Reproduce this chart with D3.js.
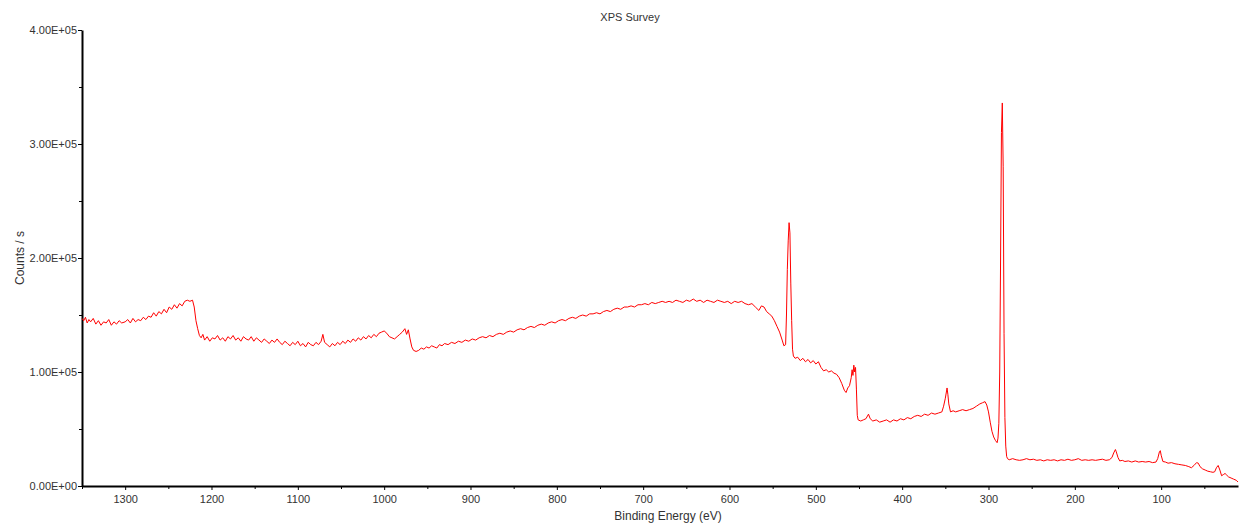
<!DOCTYPE html>
<html lang="en">

<head>
    <meta charset="UTF-8">
    <title>XPS Survey</title>
    <script src="https://d3js.org/d3.v7.min.js"></script>
    <style>
        body,
        html {
            margin: 0;
            background: #fff;
            overflow: hidden;
        }

        text {
            font-family: "Liberation Sans", Arial, sans-serif;
            fill: #333;
        }
    </style>
</head>

<body>
    <div id="chart"></div>
    <script>
        // binding energy (eV) of each sample
        var bindingEnergy = [
            1350, 1348, 1346, 1344, 1342, 1340, 1337, 1334, 1331, 1328,
            1325, 1322, 1319, 1316, 1313, 1310, 1307, 1304, 1300, 1297,
            1294, 1291, 1288, 1285, 1282, 1279, 1276, 1273, 1270, 1267,
            1264, 1261, 1258, 1255, 1252, 1249, 1246, 1243, 1240, 1237,
            1234, 1231, 1228, 1225, 1222, 1220, 1218, 1216, 1214, 1212,
            1210, 1208, 1205, 1202, 1199, 1196, 1193, 1190, 1187, 1184,
            1181, 1178, 1175, 1172, 1169, 1166, 1163, 1160, 1157, 1154,
            1151, 1148, 1145, 1142, 1139, 1136, 1133, 1130, 1127, 1124,
            1121, 1118, 1115, 1112, 1109, 1106, 1103, 1100, 1097, 1094,
            1091, 1088, 1085, 1082, 1079, 1076, 1073, 1071, 1069, 1066,
            1063, 1060, 1057, 1054, 1051, 1048, 1045, 1042, 1039, 1036,
            1033, 1030, 1027, 1024, 1021, 1018, 1015, 1012, 1009, 1006,
            1003, 1000, 997, 994, 991, 988, 985, 982, 979, 976,
            974, 972, 970, 968, 966, 963, 960, 957, 954, 951,
            948, 945, 942, 939, 936, 933, 930, 926, 922, 918,
            914, 910, 906, 902, 898, 894, 890, 886, 882, 878,
            874, 870, 866, 862, 858, 854, 850, 846, 842, 838,
            834, 830, 826, 822, 818, 814, 810, 806, 802, 798,
            794, 790, 786, 782, 778, 774, 770, 766, 762, 758,
            754, 750, 746, 742, 738, 734, 730, 726, 722, 718,
            714, 710, 706, 702, 698, 694, 690, 686, 682, 678,
            674, 670, 666, 662, 658, 654, 650, 646, 642, 638,
            634, 630, 626, 622, 618, 614, 610, 606, 602, 598,
            594, 590, 586, 582, 578, 574, 570, 566, 563, 560,
            557, 554, 551, 548, 545, 542, 539, 537, 535, 534,
            533, 532, 531, 530, 529, 528, 527, 526, 524, 521,
            518, 515, 512, 509, 506, 503, 500, 497, 494, 491,
            488, 485, 482, 479, 476, 473, 470, 467, 465, 463,
            461, 459, 458, 457, 456, 455, 454, 453, 452, 451,
            448, 445, 442, 439, 437, 434, 430, 426, 422, 418,
            414, 410, 406, 402, 398, 394, 390, 386, 382, 378,
            374, 370, 366, 362, 358, 354, 352, 350, 348, 347,
            346, 344, 341, 338, 334, 330, 326, 322, 318, 314,
            310, 307, 304, 302, 300, 298, 296, 294, 292, 290,
            289, 288, 287, 286, 285, 284, 283, 282, 281, 280,
            279, 278, 276, 272, 268, 264, 260, 256, 252, 248,
            244, 240, 236, 232, 228, 224, 220, 216, 212, 208,
            204, 200, 196, 192, 188, 184, 180, 176, 172, 168,
            164, 160, 157, 155, 153, 152, 150, 148, 145, 142,
            138, 134, 130, 126, 122, 118, 114, 110, 106, 104,
            102, 101, 100, 98, 95, 92, 88, 84, 80, 76,
            72, 68, 65, 62, 59, 57, 55, 52, 49, 46,
            43, 40, 38, 36, 34, 32, 30, 28, 26, 24,
            22, 19, 16, 13, 11
        ];

        // counts per second at each energy above
        var counts = [
            147000, 145000, 148000, 143000, 146000, 144000, 147000, 142000, 145000, 141000,
            144000, 143000, 146000, 141000, 144000, 142000, 145000, 143000, 144000, 146000,
            143000, 147000, 144000, 146000, 145000, 148000, 146000, 149000, 148000, 152000,
            149000, 153000, 151000, 155000, 152000, 157000, 155000, 159000, 156000, 160000,
            158000, 162000, 163000, 162000, 163000, 157000, 145000, 138000, 132000, 130000,
            133000, 128000, 131000, 127000, 130000, 129000, 132000, 128000, 130000, 127000,
            131000, 129000, 132000, 128000, 130000, 127000, 131000, 129000, 128000, 131000,
            127000, 130000, 128000, 126000, 129000, 127000, 125000, 128000, 126000, 129000,
            126000, 124000, 127000, 125000, 123000, 126000, 124000, 127000, 123000, 125000,
            122000, 126000, 124000, 123000, 126000, 124000, 127000, 133000, 126000, 124000,
            122000, 125000, 123000, 126000, 124000, 127000, 125000, 128000, 126000, 129000,
            127000, 130000, 128000, 131000, 129000, 132000, 130000, 133000, 131000, 134000,
            135000, 136000, 134000, 131000, 130000, 129000, 131000, 133000, 135000, 138000,
            133000, 137000, 129000, 122000, 119000, 118000, 119000, 121000, 120000, 122000,
            121000, 123000, 122000, 121000, 124000, 123000, 125000, 124000, 126000, 125000,
            127000, 126000, 128000, 127000, 129000, 128000, 130000, 131000, 130000, 132000,
            131000, 133000, 134000, 133000, 135000, 136000, 135000, 137000, 138000, 137000,
            139000, 140000, 139000, 141000, 142000, 141000, 143000, 144000, 143000, 145000,
            146000, 145000, 147000, 148000, 147000, 149000, 150000, 149000, 151000, 151000,
            152000, 151000, 153000, 154000, 153000, 155000, 156000, 155000, 157000, 157000,
            158000, 157000, 159000, 159000, 160000, 159000, 161000, 160000, 161000, 162000,
            161000, 162000, 161000, 163000, 162000, 161000, 163000, 162000, 164000, 162000,
            163000, 161000, 163000, 162000, 161000, 163000, 162000, 161000, 162000, 160000,
            162000, 161000, 162000, 160000, 159000, 160000, 157000, 154000, 158000, 157000,
            153000, 151000, 149000, 145000, 140000, 135000, 128000, 123000, 124000, 150000,
            190000, 215000, 231000, 222000, 178000, 145000, 120000, 114000, 112000, 113000,
            110000, 112000, 109000, 111000, 108000, 110000, 107000, 109000, 104000, 101000,
            102000, 100000, 101000, 99000, 98000, 95000, 90000, 84000, 82000, 86000,
            88000, 95000, 102000, 97000, 106000, 100000, 104000, 85000, 62000, 58000,
            57000, 58000, 59000, 63000, 59000, 57000, 58000, 56000, 57000, 58000,
            56000, 58000, 57000, 59000, 58000, 60000, 59000, 61000, 62000, 61000,
            63000, 62000, 64000, 63000, 64000, 65000, 70000, 77000, 86000, 80000,
            72000, 65000, 66000, 65000, 66000, 67000, 66000, 67000, 68000, 70000,
            72000, 73000, 74000, 71000, 65000, 56000, 48000, 43000, 40000, 38000,
            42000, 55000, 100000, 200000, 310000, 336000, 280000, 134000, 60000, 35000,
            26000, 24000, 23000, 24000, 23000, 22500, 23000, 24000, 23000, 23500,
            22500, 23000, 22000, 23000, 22500, 23000, 22000, 23000, 22500, 23500,
            22500, 23000, 24000, 22500, 23000, 22500, 23000, 22500, 23000, 23500,
            22500, 23000, 25000, 29000, 32000, 30000, 25000, 22000, 22500, 21500,
            22000, 21000, 22000, 21000, 21500, 21000, 21500, 20500, 21000, 24000,
            30000, 31000, 27000, 21500, 21000, 20000, 20500, 19500, 19000, 18500,
            18000, 17000, 16000, 18000, 20500, 20000, 17000, 15000, 14000, 13000,
            12500, 12000, 12500, 16000, 18000, 14000, 9000, 10000, 11000, 9500,
            8000, 7000, 6000, 5000, 3500
        ];

        var xMajorTicks = [1300, 1200, 1100, 1000, 900, 800, 700, 600, 500, 400, 300, 200, 100];
        var xMinorTicks = [1350, 1250, 1150, 1050, 950, 850, 750, 650, 550, 450, 350, 250, 150, 50];
        var yMajorTicks = [0, 100000, 200000, 300000, 400000];
        var yMinorTicks = [50000, 150000, 250000, 350000];

        var W = 1239, H = 526;
        var plotLeft = 82, plotRight = 1238, plotTop = 30, plotBottom = 486;

        var svg = d3.select("#chart").append("svg")
            .attr("width", W)
            .attr("height", H);

        var x = d3.scaleLinear().domain([1350, 11]).range([plotLeft, plotRight]);
        var y = d3.scaleLinear().domain([0, 400000]).range([plotBottom, plotTop]);

        // 4.00E+05 style labels
        function sci(v) {
            var s = d3.format(".2e")(v).toUpperCase();
            return s.replace(/E([+-])(\d)$/, "E$10$2");
        }

        // minor ticks first, no labels
        svg.append("g")
            .attr("transform", `translate(0,${plotBottom})`)
            .call(d3.axisBottom(x).tickValues(xMinorTicks).tickSize(3).tickSizeOuter(0).tickFormat(""))
            .call(g => g.select(".domain").remove());

        svg.append("g")
            .attr("transform", `translate(${plotLeft},0)`)
            .call(d3.axisLeft(y).tickValues(yMinorTicks).tickSize(3).tickSizeOuter(0).tickFormat(""))
            .call(g => g.select(".domain").remove());

        var xAxis = svg.append("g")
            .attr("transform", `translate(0,${plotBottom})`)
            .call(d3.axisBottom(x).tickValues(xMajorTicks).tickSize(4).tickSizeOuter(0).tickPadding(5).tickFormat(d3.format("d")));

        var yAxis = svg.append("g")
            .attr("transform", `translate(${plotLeft},0)`)
            .call(d3.axisLeft(y).tickValues(yMajorTicks).tickSize(4).tickSizeOuter(0).tickPadding(1).tickFormat(sci));

        [xAxis, yAxis].forEach(g => {
            g.select(".domain").attr("stroke", "#000").attr("stroke-width", 2);
            g.selectAll("text").attr("font-size", 11).attr("fill", "#333")
                .attr("font-family", "'Liberation Sans', Arial, sans-serif");
        });

        // spectrum
        var points = bindingEnergy.map((e, i) => [e, counts[i]]);
        svg.append("path")
            .datum(points)
            .attr("fill", "none")
            .attr("stroke", "#ff0000")
            .attr("stroke-width", 1)
            .attr("d", d3.line()
                .x(d => x(d[0]))
                .y(d => y(d[1])));

        // titles
        svg.append("text")
            .attr("x", 630).attr("y", 21)
            .attr("text-anchor", "middle")
            .attr("font-size", 11)
            .text("XPS Survey");

        svg.append("text")
            .attr("x", 668).attr("y", 520)
            .attr("text-anchor", "middle")
            .attr("font-size", 12)
            .text("Binding Energy (eV)");

        svg.append("text")
            .attr("transform", "translate(24,258) rotate(-90)")
            .attr("text-anchor", "middle")
            .attr("font-size", 12)
            .text("Counts / s");
    </script>
</body>

</html>
